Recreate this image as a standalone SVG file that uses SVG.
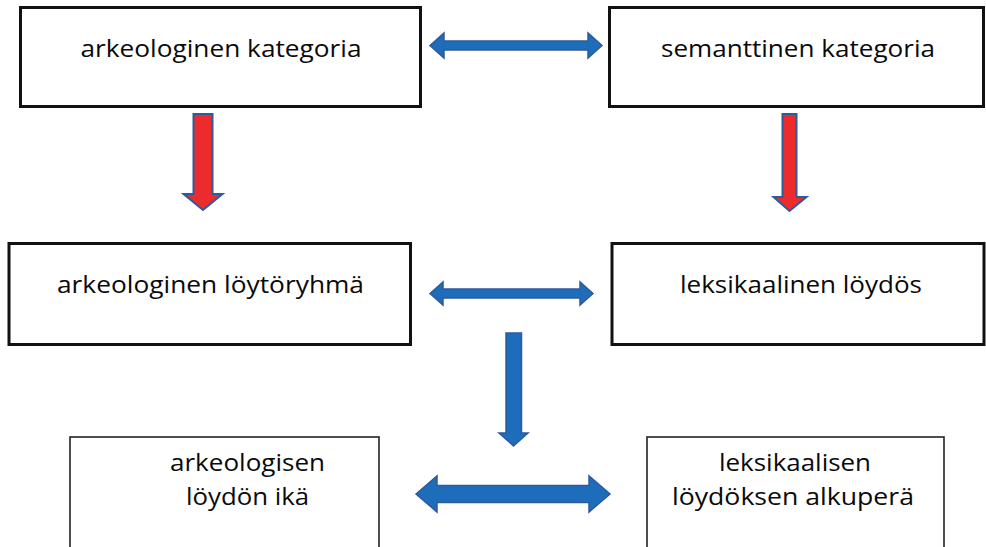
<svg xmlns="http://www.w3.org/2000/svg" width="986" height="547" viewBox="0 0 986 547">
<style>
.box{fill:#fff;stroke:#111;stroke-width:3}
.box2{fill:#fff;stroke:#222;stroke-width:1.6}
.lbl{font-family:"Open Sans","Liberation Sans",sans-serif;font-size:23px;fill:#0a0a0a;text-anchor:middle}
.blue{fill:#1d6dbb;stroke:#2d5b9b;stroke-width:1.5;stroke-linejoin:miter}
.red{fill:#ec2c2c;stroke:#2d5b9b;stroke-width:2;stroke-linejoin:miter}
</style>
<rect width="986" height="547" fill="#fff"/>
<g id="connectors">
<polygon class="blue" points="430,45.5 444,33 444,41 588,41 588,33 602,45.5 588,58 588,50 444,50 444,58"/>
<polygon class="red" points="193.5,114 212.5,114 212.5,194 222.5,194 203,210 183.5,194 193.5,194"/>
<polygon class="red" points="782.5,114 796.5,114 796.5,197 806.5,197 789.5,211 773.5,197 782.5,197"/>
<polygon class="blue" points="430,293.5 443,282 443,289 580,289 580,282 593,293.5 580,305 580,298 443,298 443,305"/>
<polygon class="blue" points="506,333 521.5,333 521.5,433 528,433 513.5,446 499,433 506,433"/>
<polygon class="blue" points="416,494 437,476 437,485.5 589,485.5 589,476 610,494 589,512 589,502.5 437,502.5 437,512"/>
</g>
<g id="n1">
<rect class="box" x="20.5" y="7.5" width="400" height="99"/>
<text class="lbl" x="221" y="57" textLength="281" lengthAdjust="spacingAndGlyphs">arkeologinen kategoria</text>
</g>
<g id="n2">
<rect class="box" x="609.5" y="7.5" width="374" height="99"/>
<text class="lbl" x="798" y="57" textLength="274" lengthAdjust="spacingAndGlyphs">semanttinen kategoria</text>
</g>
<g id="n3">
<rect class="box" x="9" y="243.5" width="401.5" height="101"/>
<text class="lbl" x="210.5" y="293" textLength="307" lengthAdjust="spacingAndGlyphs">arkeologinen löytöryhmä</text>
</g>
<g id="n4">
<rect class="box" x="612" y="243.5" width="372" height="101"/>
<text class="lbl" x="801" y="293" textLength="242" lengthAdjust="spacingAndGlyphs">leksikaalinen löydös</text>
</g>
<g id="n5">
<rect class="box2" x="70" y="437" width="309" height="120"/>
<text class="lbl" x="247.5" y="471" textLength="155" lengthAdjust="spacingAndGlyphs">arkeologisen</text>
<text class="lbl" x="247.5" y="505" textLength="123" lengthAdjust="spacingAndGlyphs">löydön ikä</text>
</g>
<g id="n6">
<rect class="box2" x="647" y="437" width="297" height="120"/>
<text class="lbl" x="795" y="471" textLength="152" lengthAdjust="spacingAndGlyphs">leksikaalisen</text>
<text class="lbl" x="793" y="505" textLength="242" lengthAdjust="spacingAndGlyphs">löydöksen alkuperä</text>
</g>
</svg>
